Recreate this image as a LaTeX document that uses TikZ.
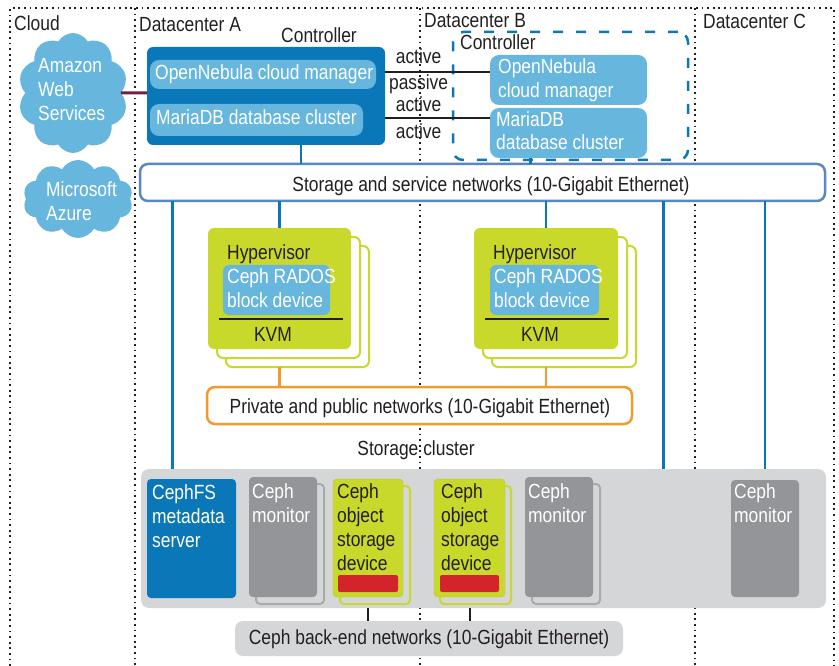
\documentclass[tikz,border=0pt]{standalone}
\usepackage{fontspec}
\setmainfont{Liberation Sans}[FakeStretch=0.85]
\usetikzlibrary{shapes.symbols}

\definecolor{ctrlblue}{HTML}{0A77B8}
\definecolor{paleblue}{HTML}{67B6DD}
\definecolor{netblue}{HTML}{5A86C6}
\definecolor{hypgreen}{HTML}{C9D92C}
\definecolor{netorange}{HTML}{F39A2B}
\definecolor{clustergray}{HTML}{D5D6D8}
\definecolor{mongray}{HTML}{949599}
\definecolor{osdred}{HTML}{D3242B}
\definecolor{awslink}{HTML}{6E2040}
\definecolor{ink}{HTML}{231F20}

\begin{document}
\begin{tikzpicture}[x=1pt,y=-1pt,
    every node/.style={font=\fontsize{20.5}{24}\selectfont, text=ink},
    box/.style={anchor=north west, inner sep=0pt, outer sep=0pt, rounded corners=6pt},
    txt/.style={anchor=base west, align=left, inner sep=0pt},
    region/.style={ink, line width=1.8pt, dash pattern=on 1.8pt off 3.8pt},
    svclink/.style={ctrlblue, line width=2.5pt},
    privlink/.style={netorange, line width=2.5pt},
    repl/.style={ink, line width=2pt},
    backlink/.style={ink, line width=2pt},
    stackback/.style={box, line width=2pt, fill=white},
    puff/.style={cloud, cloud puffs=10, cloud puff arc=120, fill=paleblue, inner sep=0pt}]
  \useasboundingbox (0,0) rectangle (839,666);

  \draw[region] (10,666) -- (10,8) -- (834,8) -- (834,666);
  \draw[region] (135,8) -- (135,666);
  \draw[region] (420,8) -- (420,666);
  \draw[region] (695,8) -- (695,666);
  \node[txt] (cloudlbl) at (14,31) {Cloud};
  \node[txt] (dcAlbl) at (139,32) {Datacenter A};
  \node[txt] (dcBlbl) at (424,28) {Datacenter B};
  \node[txt] (dcClbl) at (703,29) {Datacenter C};

  % multi-line texts sit on the baseline of their last line
  \node[puff, aspect=0.9, minimum width=110pt, minimum height=120pt] (aws) at (73,93) {};
  \node[txt, text=white] (awstxt) at (38,121) {Amazon\\Web\\Services};
  \node[puff, aspect=1.4, minimum width=110pt, minimum height=78pt] (azure) at (78,199) {};
  \node[txt, text=white] (azuretxt) at (46,221) {Microsoft\\Azure};

  \node[box, fill=ctrlblue, minimum width=238pt, minimum height=98pt] (ctrlA) at (147,47) {};
  \node[txt, anchor=base] (ctrlAlbl) at (319,43) {Controller};
  \node[box, fill=paleblue, rounded corners=9pt, minimum width=226pt, minimum height=29pt] (onA) at (150,60) {};
  \node[txt, text=white] (onAtxt) at (155,80) {OpenNebula cloud manager};
  \node[box, fill=paleblue, rounded corners=9pt, minimum width=213pt, minimum height=32pt] (dbA) at (150,104) {};
  \node[txt, text=white] (dbAtxt) at (156,125) {MariaDB database cluster};

  \node[box, draw=ctrlblue, line width=2.5pt, dash pattern=on 10pt off 13pt, rounded corners=10pt,
    minimum width=235pt, minimum height=128pt] (ctrlB) at (453,32) {};
  \node[txt] (ctrlBlbl) at (460,50) {Controller};
  \node[box, fill=paleblue, rounded corners=9pt, minimum width=157pt, minimum height=50pt] (onB) at (490,55) {};
  \node[txt, text=white] (onBtxt) at (498,98) {OpenNebula\\cloud manager};
  \node[box, fill=paleblue, rounded corners=9pt, minimum width=157pt, minimum height=50pt] (dbB) at (490,108) {};
  \node[txt, text=white] (dbBtxt) at (496,150) {MariaDB\\database cluster};

  \draw[awslink, line width=3pt] (aws) -- (aws -| ctrlA.west);
  \coordinate (onBin) at ([yshift=8pt]onB.west);
  \coordinate (dbBin) at ([yshift=14.5pt]dbB.west);
  \draw[repl] (onBin -| ctrlA.east) -- node[pos=0.32, above=7pt, inner sep=0pt] (act1) {active}
    node[pos=0.32, below=2pt, inner sep=0pt] (pas1) {passive} (onBin);
  \draw[repl] (dbBin -| ctrlA.east) -- node[pos=0.32, above=6pt, inner sep=0pt] (act2) {active}
    node[pos=0.32, below=4pt, inner sep=0pt] (act3) {active} (dbBin);

  \node[box, draw=netblue, fill=white, line width=2.5pt, rounded corners=8pt,
    minimum width=685pt, minimum height=37pt] (stornet) at (140,164) {};
  \node[txt, anchor=base] (stornettxt) at (491,192) {Storage and service networks (10-Gigabit Ethernet)};

  \node[stackback, draw=hypgreen, minimum width=143pt, minimum height=121pt] (hypA3) at (226,246) {};
  \node[stackback, draw=hypgreen, minimum width=143pt, minimum height=121pt] (hypA2) at (217,237) {};
  \node[box, fill=hypgreen, minimum width=143pt, minimum height=121pt] (hypA) at (208,228) {};
  \node[txt] (hypAlbl) at (227,259) {Hypervisor};
  \node[box, fill=paleblue, minimum width=107pt, minimum height=50pt] (rbdA) at (223,265) {};
  \node[txt, text=white] (rbdAtxt) at (227,307) {Ceph RADOS\\block device};
  \draw[repl, line width=2.5pt] (219,319) -- (343,319);
  \node[txt, anchor=base] (kvmA) at (273,341) {KVM};

  \node[stackback, draw=hypgreen, minimum width=144pt, minimum height=121pt] (hypB3) at (492,246) {};
  \node[stackback, draw=hypgreen, minimum width=144pt, minimum height=121pt] (hypB2) at (483,237) {};
  \node[box, fill=hypgreen, minimum width=144pt, minimum height=121pt] (hypB) at (474,228) {};
  \node[txt] (hypBlbl) at (493,259) {Hypervisor};
  \node[box, fill=paleblue, minimum width=109pt, minimum height=50pt] (rbdB) at (490,265) {};
  \node[txt, text=white] (rbdBtxt) at (494,307) {Ceph RADOS\\block device};
  \draw[repl, line width=2.5pt] (485,319) -- (609,319);
  \node[txt, anchor=base] (kvmB) at (540,341) {KVM};

  \node[box, draw=netorange, fill=white, line width=2.5pt, rounded corners=8pt,
    minimum width=425pt, minimum height=37pt] (privnet) at (207,387) {};
  \node[txt, anchor=base] (privnettxt) at (420,413) {Private and public networks (10-Gigabit Ethernet)};

  \node[txt, anchor=base] (clusterlbl) at (416,455) {Storage cluster};
  \node[box, fill=clustergray, rounded corners=8pt, minimum width=685pt, minimum height=139pt] (cluster) at (141,469) {};

  \node[box, fill=ctrlblue, rounded corners=4pt, minimum width=89pt, minimum height=119pt] (mds) at (147,479) {};
  \node[txt, text=white] (mdstxt) at (152,547) {CephFS\\metadata\\server};

  \node[box, draw=mongray!80, line width=2pt, rounded corners=4pt, minimum width=68pt, minimum height=120pt] (monAback) at (256,484) {};
  \node[box, fill=mongray, rounded corners=4pt, minimum width=68pt, minimum height=120pt] (monA) at (249,477) {};
  \node[txt, text=white] (monAtxt) at (252,522) {Ceph\\monitor};

  \node[box, draw=hypgreen, line width=2pt, rounded corners=4pt, minimum width=70pt, minimum height=118pt] (osdAback) at (340,486) {};
  \node[box, fill=hypgreen, draw=hypgreen!90!black, rounded corners=4pt, minimum width=70pt, minimum height=118pt] (osdA) at (333,479) {};
  \node[txt] (osdAtxt) at (337,570) {Ceph\\object\\storage\\device};
  \node[box, fill=osdred, rounded corners=2pt, minimum width=60pt, minimum height=17pt] (osdAdisk) at (338,575) {};

  \node[box, draw=hypgreen, line width=2pt, rounded corners=4pt, minimum width=71pt, minimum height=118pt] (osdBback) at (440,486) {};
  \node[box, fill=hypgreen, draw=hypgreen!90!black, rounded corners=4pt, minimum width=71pt, minimum height=118pt] (osdB) at (434,479) {};
  \node[txt] (osdBtxt) at (441,570) {Ceph\\object\\storage\\device};
  \node[box, fill=osdred, rounded corners=2pt, minimum width=59pt, minimum height=17pt] (osdBdisk) at (440,575) {};

  \node[box, draw=mongray!80, line width=2pt, rounded corners=4pt, minimum width=68pt, minimum height=120pt] (monBback) at (532,484) {};
  \node[box, fill=mongray, rounded corners=4pt, minimum width=68pt, minimum height=120pt] (monB) at (525,477) {};
  \node[txt, text=white] (monBtxt) at (528,522) {Ceph\\monitor};

  \node[box, fill=mongray, rounded corners=4pt, minimum width=68pt, minimum height=117pt] (monC) at (731,480) {};
  \node[txt, text=white] (monCtxt) at (734,522) {Ceph\\monitor};

  \node[box, fill=clustergray, rounded corners=8pt, minimum width=388pt, minimum height=35pt] (backnet) at (235,621) {};
  \node[txt, anchor=base] (backnettxt) at (429,644) {Ceph back-end networks (10-Gigabit Ethernet)};

  \coordinate (ctrlAout) at ([xshift=35pt]ctrlA.south);
  \coordinate (dbBout) at ([xshift=-38pt]dbB.south);
  \coordinate (mdsin) at ([xshift=-19pt]mds.north);
  \coordinate (clusterin) at ([xshift=180pt]cluster.north);
  \draw[svclink] (ctrlAout) -- (ctrlAout |- stornet.north);
  \draw[svclink] (dbBout) -- (dbBout |- stornet.north);
  \draw[svclink] (stornet.south -| hypA.north) -- (hypA.north);
  \draw[svclink] (stornet.south -| hypB.north) -- (hypB.north);
  \draw[svclink] (stornet.south -| mdsin) -- (cluster.north -| mdsin);
  \draw[svclink] (stornet.south -| clusterin) -- (clusterin);
  \draw[svclink] (stornet.south -| monC.north) -- (cluster.north -| monC.north);

  \draw[privlink] (hypA.south |- hypA3.south) -- (privnet.north -| hypA.south);
  \draw[privlink] (hypB.south |- hypB3.south) -- (privnet.north -| hypB.south);

  \draw[backlink] (cluster.south -| osdA.south) -- (backnet.north -| osdA.south);
  \draw[backlink] (cluster.south -| osdB.south) -- (backnet.north -| osdB.south);
\end{tikzpicture}
\end{document}
